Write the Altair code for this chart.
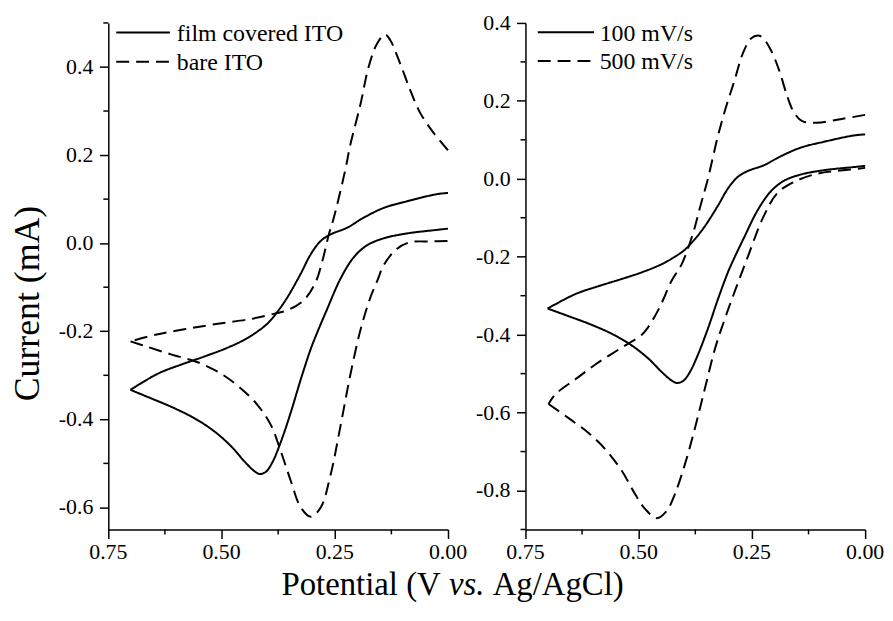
import altair as alt
import pandas as pd

FONT = "Liberation Serif"

# ---------------- data (potential V, current mA) ----------------
# Left panel
left_names = ["film covered ITO", "bare ITO"]
film_up_v = [0.000, 0.026, 0.091, 0.142, 0.186, 0.223, 0.259, 0.281, 0.303, 0.325, 0.354, 0.376, 0.398, 0.420, 0.449, 0.493, 0.540, 0.590, 0.640, 0.701]
film_up_i = [0.114, 0.111, 0.095, 0.080, 0.058, 0.035, 0.020, 0.005, -0.025, -0.069, -0.122, -0.155, -0.182, -0.200, -0.219, -0.240, -0.258, -0.276, -0.296, -0.333]
film_lo_v = [0.701, 0.661, 0.610, 0.559, 0.515, 0.478, 0.449, 0.427, 0.416, 0.402, 0.387, 0.369, 0.347, 0.325, 0.303, 0.292, 0.267, 0.237, 0.208, 0.179, 0.142, 0.091, 0.026, 0.000]
film_lo_i = [-0.333, -0.350, -0.372, -0.398, -0.428, -0.462, -0.496, -0.518, -0.524, -0.519, -0.496, -0.451, -0.384, -0.309, -0.240, -0.211, -0.150, -0.080, -0.032, -0.005, 0.011, 0.022, 0.030, 0.033]

bare_up_v = [0.000, 0.033, 0.062, 0.084, 0.106, 0.128, 0.139, 0.157, 0.175, 0.194, 0.216, 0.226, 0.252, 0.263, 0.277, 0.292, 0.318, 0.354, 0.383, 0.435, 0.508, 0.580, 0.646, 0.701]
bare_up_i = [0.211, 0.252, 0.297, 0.349, 0.409, 0.462, 0.474, 0.452, 0.401, 0.312, 0.222, 0.170, 0.058, 0.020, -0.039, -0.088, -0.129, -0.152, -0.160, -0.172, -0.183, -0.195, -0.208, -0.223]
bare_lo_v = [0.701, 0.668, 0.610, 0.551, 0.500, 0.456, 0.420, 0.391, 0.369, 0.347, 0.325, 0.303, 0.281, 0.259, 0.237, 0.216, 0.194, 0.172, 0.156, 0.142, 0.113, 0.084, 0.040, 0.000]
bare_lo_i = [-0.223, -0.234, -0.253, -0.271, -0.297, -0.331, -0.368, -0.413, -0.473, -0.540, -0.600, -0.621, -0.600, -0.525, -0.413, -0.301, -0.200, -0.125, -0.085, -0.050, -0.013, 0.002, 0.004, 0.005]

# Right panel (100 mV/s is the film-covered curve)
right_names = ["100 mV/s", "500 mV/s"]
f500_up_v = [0.000, 0.055, 0.106, 0.139, 0.157, 0.172, 0.190, 0.208, 0.226, 0.237, 0.252, 0.270, 0.288, 0.307, 0.325, 0.347, 0.365, 0.380, 0.405, 0.427, 0.453, 0.478, 0.493, 0.544, 0.595, 0.639, 0.683, 0.699]
f500_up_i = [0.164, 0.153, 0.144, 0.148, 0.170, 0.212, 0.279, 0.330, 0.362, 0.368, 0.360, 0.322, 0.254, 0.185, 0.110, 0.001, -0.075, -0.140, -0.219, -0.261, -0.328, -0.379, -0.400, -0.438, -0.476, -0.514, -0.552, -0.578]
f500_lo_v = [0.699, 0.654, 0.610, 0.573, 0.537, 0.508, 0.486, 0.460, 0.438, 0.420, 0.398, 0.376, 0.354, 0.332, 0.310, 0.285, 0.259, 0.226, 0.194, 0.157, 0.106, 0.055, 0.000]
f500_lo_i = [-0.578, -0.615, -0.653, -0.695, -0.750, -0.809, -0.847, -0.871, -0.852, -0.809, -0.733, -0.641, -0.539, -0.438, -0.360, -0.280, -0.200, -0.101, -0.037, -0.008, 0.013, 0.021, 0.028]

x_major = [0.0, 0.25, 0.5, 0.75]
x_major_labels = ["0.00", "0.25", "0.50", "0.75"]
x_minor = [0.125, 0.375, 0.625]
y_major_left = [-0.6, -0.4, -0.2, 0.0, 0.2, 0.4]
y_major_left_labels = ["-0.6", "-0.4", "-0.2", "0.0", "0.2", "0.4"]
y_minor_left = [-0.5, -0.3, -0.1, 0.1, 0.3, 0.5]
y_major_right = [-0.8, -0.6, -0.4, -0.2, 0.0, 0.2, 0.4]
y_major_right_labels = ["-0.8", "-0.6", "-0.4", "-0.2", "0.0", "0.2", "0.4"]
y_minor_right = [-0.9, -0.7, -0.5, -0.3, -0.1, 0.1, 0.3]

x_title_parts = ["Potential (V", "vs.", "Ag/AgCl)"]
y_title = "Current (mA)"

DASH = [13, 7]
W, H = 342, 510
TICK_FS = 22
MAJOR, MINOR = 9, 5
LABEL_PAD = 4


def frame(series):
    rows = []
    for name, uv, ui, lv, li in series:
        for k, (v, i) in enumerate(zip(uv, ui)):
            rows.append(dict(series=name, branch=name + "-up", idx=k, V=v, I=i))
        for k, (v, i) in enumerate(zip(lv, li)):
            rows.append(dict(series=name, branch=name + "-lo", idx=k, V=v, I=i))
    return pd.DataFrame(rows)


axis_common = dict(
    labels=False, domainColor="black", domainWidth=1.5, tickColor="black", tickWidth=1.5,
    tickSize=MAJOR, grid=False,
)


def y_axis(ticks, with_title):
    kw = dict(values=ticks, **axis_common)
    if with_title:
        kw.update(title=y_title, titleFont=FONT, titleFontSize=36, titleFontWeight="normal",
                  titleColor="black", titleX=-62, titleY=282)
    else:
        kw.update(title=None)
    return alt.Axis(**kw)


def curves(df, names, ydomain, yticks, with_title):
    return alt.Chart(df).mark_line(color="black", strokeWidth=2, interpolate="catmull-rom").encode(
        x=alt.X("V:Q", scale=alt.Scale(domain=[0, 0.75], reverse=True, nice=False, zero=False),
                axis=alt.Axis(values=x_major, title=None, **axis_common)),
        y=alt.Y("I:Q", scale=alt.Scale(domain=ydomain, nice=False, zero=False), axis=y_axis(yticks, with_title)),
        strokeDash=alt.StrokeDash("series:N", scale=alt.Scale(domain=names, range=[[1, 0], DASH]), legend=None),
        detail="branch:N",
        order="idx:Q",
    )


def tick_layers(ymajor, ylabels, yminor):
    dxm = pd.DataFrame({"V": x_minor})
    dym = pd.DataFrame({"I": yminor})
    dxl = pd.DataFrame({"V": x_major, "lab": x_major_labels})
    dyl = pd.DataFrame({"I": ymajor, "lab": ylabels})
    tx = alt.Chart(dxm).mark_rule(color="black", strokeWidth=1.5).encode(
        x=alt.X("V:Q", axis=None), y=alt.value(H), y2=alt.value(H + MINOR))
    ty = alt.Chart(dym).mark_rule(color="black", strokeWidth=1.5).encode(
        y=alt.Y("I:Q", axis=None), x=alt.value(-MINOR), x2=alt.value(0))
    lx = alt.Chart(dxl).mark_text(font=FONT, fontSize=TICK_FS, color="black", align="center",
                                  baseline="top").encode(
        x=alt.X("V:Q", axis=None), y=alt.value(H + MAJOR + LABEL_PAD), text="lab:N")
    ly = alt.Chart(dyl).mark_text(font=FONT, fontSize=TICK_FS, color="black", align="right",
                                  baseline="middle").encode(
        y=alt.Y("I:Q", axis=None), x=alt.value(-MAJOR - LABEL_PAD - 2), text="lab:N")
    return [tx, ty, lx, ly]


def legend(names, x0, x1, xt, y0, dy):
    layers = []
    for k, name in enumerate(names):
        d = pd.DataFrame({"label": [name]})
        y = y0 + dy * k
        rule_kw = dict(color="black", strokeWidth=2)
        if k == 1:
            rule_kw["strokeDash"] = DASH
        layers.append(alt.Chart(d).mark_rule(**rule_kw).encode(
            x=alt.value(x0), x2=alt.value(x1), y=alt.value(y)))
        layers.append(alt.Chart(d).mark_text(align="left", baseline="alphabetic", font=FONT,
                                             fontSize=24, color="black").encode(
            x=alt.value(xt), y=alt.value(y + 8.4), text="label:N"))
    return layers


def xtitle():
    fs = 33
    # Times metrics: "Potential (V" 5.141em, space .25em, "vs." 1.083em, "Ag/AgCl)" 4.0em
    w1, sp, w2 = 5.141 * fs, 0.25 * fs, 1.083 * fs
    total = w1 + sp + w2 + sp + 4.0 * fs
    start = W - total / 2.0
    specs = [(x_title_parts[0], "right", "normal", start + w1),
             (x_title_parts[1], "left", "italic", start + w1 + sp),
             (x_title_parts[2], "left", "normal", start + w1 + sp + w2 + sp)]
    out = []
    for txt, al, st, xx in specs:
        d = pd.DataFrame({"t": [txt]})
        out.append(alt.Chart(d).mark_text(align=al, baseline="alphabetic", font=FONT, fontSize=fs,
                                          fontStyle=st, color="black").encode(
            x=alt.value(xx), y=alt.value(H + 66), text="t:N"))
    return out


df_left = frame([
    (left_names[0], film_up_v, film_up_i, film_lo_v, film_lo_i),
    (left_names[1], bare_up_v, bare_up_i, bare_lo_v, bare_lo_i),
])
df_right = frame([
    (right_names[0], film_up_v, film_up_i, film_lo_v, film_lo_i),
    (right_names[1], f500_up_v, f500_up_i, f500_lo_v, f500_lo_i),
])

left = alt.layer(
    curves(df_left, left_names, [-0.65, 0.5], y_major_left, True),
    *tick_layers(y_major_left, y_major_left_labels, y_minor_left),
    *legend(left_names, 8, 62, 69, 9.6, 29.4),
    *xtitle(),
).resolve_axis(x="independent", y="independent").properties(width=W, height=H)

right = alt.layer(
    curves(df_right, right_names, [-0.9, 0.4], y_major_right, False),
    *tick_layers(y_major_right, y_major_right_labels, y_minor_right),
    *legend(right_names, 12.4, 69, 74.7, 9.3, 29.0),
).resolve_axis(x="independent", y="independent").properties(width=W, height=H)

chart = alt.hconcat(left, right, spacing=78, bounds="flush").resolve_scale(
    strokeDash="independent"
).properties(
    padding={"left": 2, "top": 2, "right": 0, "bottom": 0},
    background="white",
).configure_view(stroke=None)

chart.save("out.html", embed_options={"renderer": "svg", "actions": False})
